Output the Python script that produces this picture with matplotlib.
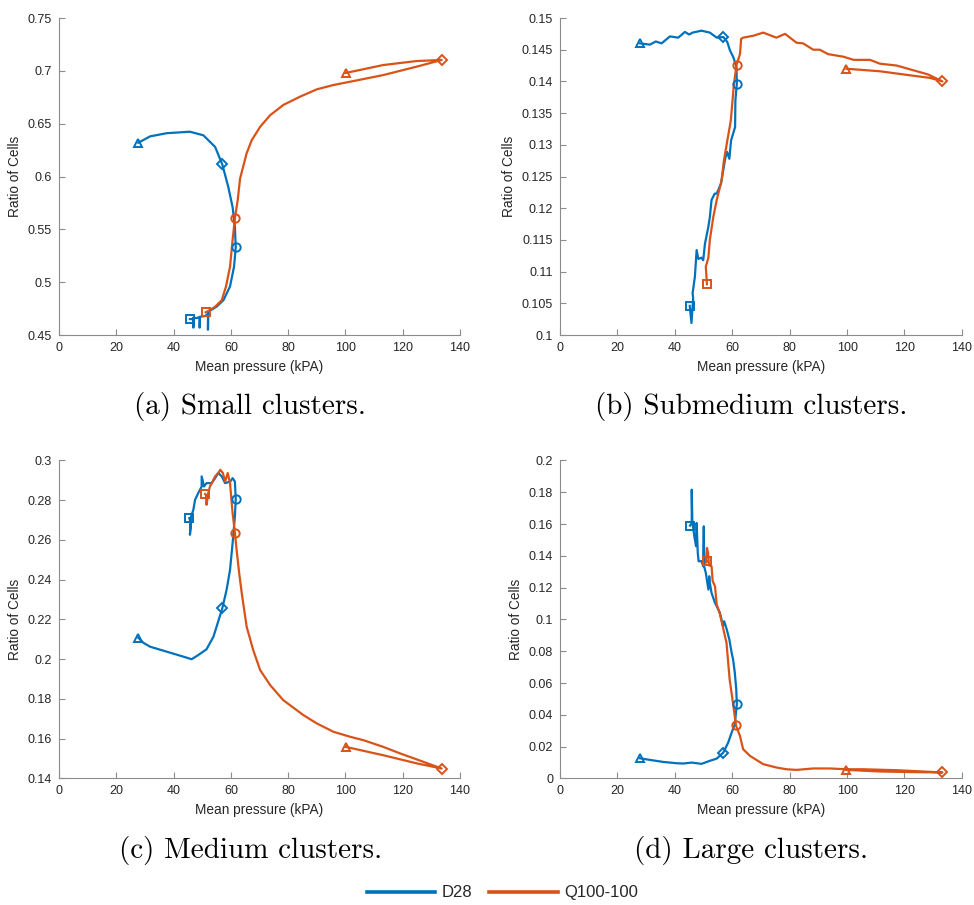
import numpy as np
import matplotlib.pyplot as plt
from matplotlib import rcParams

rcParams['font.family'] = ['Liberation Sans', 'DejaVu Sans']
rcParams['axes.linewidth'] = 0.8

COLOR_D28 = '#0072BD'
COLOR_Q100 = '#D95319'
AXIS_GREY = '#8c8c8c'
TEXT_GREY = '#262626'

# ---- (a) small clusters ----
A_D28_X = [27.7, 31.8, 37.6, 45.7, 50.4, 54.5, 57.0, 59.1, 60.6, 61.4, 61.7, 61.1, 59.7, 57.4,
           55.0, 52.1, 52.0, 52.0, 51.0, 49.2, 49.1, 49.1, 48.0, 47.0, 46.9, 46.9, 46.3, 45.7]
A_D28_Y = [0.632, 0.638, 0.641, 0.6424, 0.639, 0.628, 0.6115, 0.590, 0.571, 0.5525, 0.533, 0.5146,
           0.496, 0.483, 0.4768, 0.472, 0.455, 0.470, 0.468, 0.4673, 0.457, 0.467, 0.466, 0.4665,
           0.457, 0.466, 0.465, 0.4651]
A_D28_MX = [27.7, 57.0, 61.7, 45.7]
A_D28_MY = [0.632, 0.6115, 0.533, 0.4651]

A_Q_X = [100.1, 113.2, 124.9, 133.6, 124.9, 113.2, 101.6, 95.8, 90.0, 84.1, 78.3, 73.7, 70.2,
         67.3, 65.5, 63.2, 62.4, 61.4, 60.6, 59.7, 58.3, 56.8, 54.5, 52.7, 51.2]
A_Q_Y = [0.698, 0.7055, 0.7093, 0.7103, 0.704, 0.696, 0.6897, 0.6866, 0.6825, 0.6755, 0.6677,
         0.658, 0.647, 0.6345, 0.622, 0.598, 0.578, 0.5604, 0.540, 0.5146, 0.496, 0.483, 0.4768,
         0.4737, 0.4715]
A_Q_MX = [100.1, 133.6, 61.4, 51.2]
A_Q_MY = [0.698, 0.7103, 0.5604, 0.4715]

# ---- (b) submedium clusters ----
B_D28_X = [27.9, 31.3, 33.4, 35.4, 38.3, 41.2, 43.5, 45.0, 46.2, 49.3, 52.2, 54.6, 56.9, 58.3,
           59.2, 60.4, 61.5, 61.6, 61.1, 61.0, 59.6, 59.0, 58.2, 57.5, 56.1, 54.6, 53.9, 52.8,
           52.2, 51.7, 50.5, 49.9, 49.3, 48.2, 47.6, 47.0, 46.2, 46.4, 45.8, 45.2]
B_D28_Y = [0.1460, 0.1458, 0.1463, 0.1460, 0.1471, 0.1469, 0.1478, 0.1474, 0.1477, 0.1480,
           0.1477, 0.1469, 0.1470, 0.1462, 0.1449, 0.1438, 0.1422, 0.1396, 0.1370, 0.1328,
           0.1307, 0.1278, 0.1289, 0.1277, 0.1239, 0.1223, 0.1223, 0.1213, 0.1186, 0.1171,
           0.1144, 0.1118, 0.1122, 0.1120, 0.1134, 0.1092, 0.1066, 0.1058, 0.1019, 0.1046]
B_D28_MX = [27.9, 56.9, 61.6, 45.2]
B_D28_MY = [0.1460, 0.1470, 0.1396, 0.1046]

B_Q_X = [99.8, 111.4, 123.0, 128.8, 133.2, 128.2, 117.3, 111.4, 108.0, 102.3, 98.7, 93.4, 90.5,
         88.2, 84.7, 82.4, 78.4, 75.4, 70.8, 67.3, 63.8, 63.1, 62.7, 61.5, 60.6, 59.5, 58.3,
         57.1, 56.3, 54.6, 53.4, 52.2, 51.7, 50.8, 51.2]
B_Q_Y = [0.1420, 0.1416, 0.1409, 0.14056, 0.1400, 0.1411, 0.1425, 0.1428, 0.1434, 0.1434,
         0.1439, 0.1443, 0.1450, 0.1450, 0.1460, 0.1461, 0.1475, 0.1469, 0.1477, 0.1472,
         0.1469, 0.1467, 0.1443, 0.1426, 0.1396, 0.1338, 0.1307, 0.1275, 0.1244, 0.1213,
         0.1186, 0.1150, 0.1122, 0.1108, 0.1080]
B_Q_MX = [99.8, 133.2, 61.5, 51.2]
B_Q_MY = [0.1420, 0.1400, 0.1426, 0.1080]

# ---- (c) medium clusters ----
C_D28_X = [27.7, 29.4, 31.8, 37.6, 43.4, 46.3, 48.6, 51.5, 53.9, 57.0, 58.5, 59.7, 60.6, 61.4,
           61.7, 61.4, 60.6, 59.8, 58.0, 56.8, 55.6, 54.5, 53.3, 51.5, 50.6, 49.8, 49.8, 48.6,
           47.5, 46.9, 46.1, 45.7, 46.0, 45.5]
C_D28_Y = [0.2108, 0.2083, 0.2063, 0.2038, 0.2013, 0.2000, 0.2021, 0.2050, 0.2113, 0.2256,
           0.2349, 0.2449, 0.2584, 0.2718, 0.2805, 0.2894, 0.2911, 0.2894, 0.2886, 0.2920,
           0.2937, 0.2911, 0.2886, 0.2886, 0.2869, 0.2920, 0.2869, 0.2836, 0.2802, 0.2752,
           0.2718, 0.2626, 0.2685, 0.2710]
C_D28_MX = [27.7, 57.0, 61.7, 45.5]
C_D28_MY = [0.2108, 0.2256, 0.2805, 0.2710]

C_Q_X = [100.1, 113.2, 124.9, 133.6, 124.9, 119.1, 113.2, 106.2, 101.6, 95.8, 90.0, 85.3, 78.3,
         73.7, 70.2, 67.8, 65.5, 63.8, 62.9, 62.0, 61.4, 60.6, 59.7, 58.9, 58.0, 57.2, 56.3,
         55.6, 54.5, 53.6, 52.7, 52.1, 51.5, 51.3, 51.0]
C_Q_Y = [0.1559, 0.1517, 0.1476, 0.1450, 0.1496, 0.1526, 0.1559, 0.1593, 0.1610, 0.1635,
         0.1677, 0.1719, 0.1794, 0.1870, 0.1946, 0.2046, 0.2164, 0.2332, 0.2433, 0.2550,
         0.2637, 0.2735, 0.2886, 0.2937, 0.2894, 0.2937, 0.2953, 0.2937, 0.2920, 0.2894,
         0.2869, 0.2836, 0.2777, 0.2827, 0.2831]
C_Q_MX = [100.1, 133.6, 61.4, 51.0]
C_Q_MY = [0.1559, 0.1450, 0.2637, 0.2831]

# ---- (d) large clusters ----
D_D28_X = [27.9, 31.3, 36.0, 40.6, 42.9, 45.9, 49.3, 52.2, 54.6, 56.9, 58.6, 59.8, 60.9, 61.6,
           61.4, 60.9, 60.3, 59.8, 59.0, 58.1, 57.2, 56.8, 55.7, 54.6, 54.0, 52.8, 52.2, 52.0,
           51.7, 50.8, 50.2, 50.1, 49.9, 49.3, 48.3, 48.0, 47.6, 47.4, 46.8, 46.4, 46.1, 45.9,
           45.9, 45.3]
D_D28_Y = [0.0127, 0.0117, 0.0104, 0.0096, 0.0094, 0.0100, 0.0092, 0.0111, 0.0125, 0.0163,
           0.0226, 0.0289, 0.0341, 0.0467, 0.0561, 0.0665, 0.0749, 0.0790, 0.0874, 0.0937,
           0.0989, 0.0958, 0.1042, 0.1083, 0.1104, 0.1167, 0.1230, 0.1272, 0.1188, 0.1293,
           0.1335, 0.1586, 0.1335, 0.1367, 0.1366, 0.1419, 0.1607, 0.1461, 0.1523, 0.1576,
           0.1618, 0.1816, 0.1607, 0.1590]
D_D28_MX = [27.9, 56.9, 61.6, 45.3]
D_D28_MY = [0.0127, 0.0163, 0.0467, 0.1590]

D_Q_X = [99.8, 111.4, 123.0, 133.2, 117.3, 105.6, 99.8, 94.0, 88.2, 82.4, 78.9, 75.4, 70.8,
         66.2, 63.8, 62.7, 61.3, 60.4, 59.1, 58.0, 57.2, 56.3, 55.6, 54.6, 54.0, 53.2, 52.8,
         51.9, 51.6, 51.2, 50.8, 51.2]
D_Q_Y = [0.0054, 0.0044, 0.0040, 0.0038, 0.0052, 0.0058, 0.0058, 0.0063, 0.0063, 0.0054,
         0.0058, 0.0069, 0.0090, 0.0142, 0.0184, 0.0267, 0.0334, 0.0456, 0.0623, 0.0854,
         0.0916, 0.0989, 0.1042, 0.1094, 0.1209, 0.1240, 0.1335, 0.1340, 0.1419, 0.1450,
         0.1356, 0.1366]
D_Q_MX = [99.8, 133.2, 61.3, 51.2]
D_Q_MY = [0.0054, 0.0038, 0.0334, 0.1366]

MARKERS = ['^', 'D', 'o', 's']
X_TICKS = [0, 20, 40, 60, 80, 100, 120, 140]

PANELS = [
    dict(d28=(A_D28_X, A_D28_Y, A_D28_MX, A_D28_MY), q=(A_Q_X, A_Q_Y, A_Q_MX, A_Q_MY),
         yticks=[0.45, 0.5, 0.55, 0.6, 0.65, 0.7, 0.75],
         ylabels=['0.45', '0.5', '0.55', '0.6', '0.65', '0.7', '0.75'],
         caption='(a) Small clusters.'),
    dict(d28=(B_D28_X, B_D28_Y, B_D28_MX, B_D28_MY), q=(B_Q_X, B_Q_Y, B_Q_MX, B_Q_MY),
         yticks=[0.1, 0.105, 0.11, 0.115, 0.12, 0.125, 0.13, 0.135, 0.14, 0.145, 0.15],
         ylabels=['0.1', '0.105', '0.11', '0.115', '0.12', '0.125', '0.13', '0.135', '0.14',
                  '0.145', '0.15'],
         caption='(b) Submedium clusters.'),
    dict(d28=(C_D28_X, C_D28_Y, C_D28_MX, C_D28_MY), q=(C_Q_X, C_Q_Y, C_Q_MX, C_Q_MY),
         yticks=[0.14, 0.16, 0.18, 0.2, 0.22, 0.24, 0.26, 0.28, 0.3],
         ylabels=['0.14', '0.16', '0.18', '0.2', '0.22', '0.24', '0.26', '0.28', '0.3'],
         caption='(c) Medium clusters.'),
    dict(d28=(D_D28_X, D_D28_Y, D_D28_MX, D_D28_MY), q=(D_Q_X, D_Q_Y, D_Q_MX, D_Q_MY),
         yticks=[0, 0.02, 0.04, 0.06, 0.08, 0.1, 0.12, 0.14, 0.16, 0.18, 0.2],
         ylabels=['0', '0.02', '0.04', '0.06', '0.08', '0.1', '0.12', '0.14', '0.16', '0.18',
                  '0.2'],
         caption='(d) Large clusters.'),
]

# axes rectangles in figure fraction
AX_POS = [[0.0606, 0.6298, 0.4117, 0.3503], [0.5749, 0.6298, 0.4127, 0.3503],
          [0.0606, 0.1398, 0.4117, 0.3514], [0.5749, 0.1398, 0.4127, 0.3514]]
CAP_POS = [(0.257, 0.551), (0.771, 0.551), (0.257, 0.060), (0.771, 0.060)]


def draw_series(ax, data, color, label):
    x, y, mx, my = data
    h, = ax.plot(x, y, color=color, linewidth=1.6, label=label, zorder=3)
    for m, px, py in zip(MARKERS, mx, my):
        ax.plot(px, py, linestyle='none', marker=m, markersize=6 if m != 'D' else 5,
                markerfacecolor='none', markeredgecolor=color, markeredgewidth=1.4, zorder=4)
    return h


def main():
    fig = plt.figure(figsize=(9.74, 9.05), dpi=100)
    handles = []
    for i, p in enumerate(PANELS):
        ax = fig.add_axes(AX_POS[i])
        h1 = draw_series(ax, p['d28'], COLOR_D28, 'D28')
        h2 = draw_series(ax, p['q'], COLOR_Q100, 'Q100-100')
        if i == 0:
            handles = [h1, h2]
        ax.set_xlim(0, 140)
        ax.set_ylim(p['yticks'][0], p['yticks'][-1])
        ax.set_xticks(X_TICKS)
        ax.set_yticks(p['yticks'])
        ax.set_yticklabels(p['ylabels'])
        ax.spines['top'].set_visible(False)
        ax.spines['right'].set_visible(False)
        for s in ('left', 'bottom'):
            ax.spines[s].set_color(AXIS_GREY)
        ax.tick_params(direction='in', length=4, width=0.8, color=AXIS_GREY,
                       labelsize=9, labelcolor=TEXT_GREY, pad=5)
        ax.set_xlabel('Mean pressure (kPA)', fontsize=9.8, color=TEXT_GREY, labelpad=4)
        ax.set_ylabel('Ratio of Cells', fontsize=9.8, color=TEXT_GREY, labelpad=4)
        fig.text(CAP_POS[i][0], CAP_POS[i][1], p['caption'], family='cmr10', fontsize=21,
                 ha='center', va='center', color='black')

    fig.legend(handles, ['D28', 'Q100-100'], loc='center', bbox_to_anchor=(0.516, 0.0133),
               ncol=2, frameon=False, fontsize=12, handlelength=4.1, columnspacing=1.0,
               handletextpad=0.4, labelcolor=TEXT_GREY)
    for lh in fig.legends[0].get_lines():
        lh.set_linewidth(2.6)

    fig.savefig('out.png', dpi=100)


if __name__ == '__main__':
    main()
